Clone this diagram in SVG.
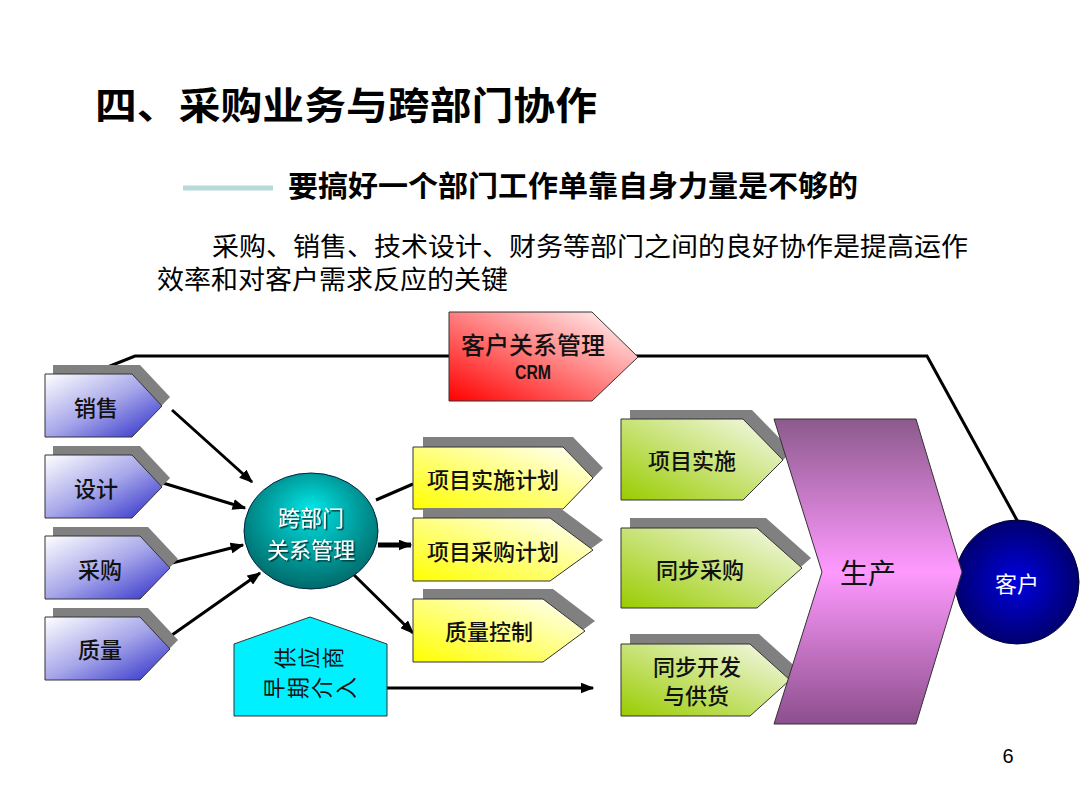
<svg xmlns="http://www.w3.org/2000/svg" width="1080" height="810" viewBox="0 0 1080 810">
<defs>
<style>
.cjk{font-family:"Noto Sans CJK SC","Noto Sans",sans-serif}
.lbl{font-family:"Noto Sans CJK SC","Noto Sans",sans-serif;fill:#111;text-anchor:middle;dominant-baseline:central;font-weight:500}
.wlbl{font-family:"Noto Sans CJK SC","Noto Sans",sans-serif;fill:#fff;text-anchor:middle;dominant-baseline:central}
.shadow{fill:#808080}
.box{stroke:#333;stroke-width:1}
.conn{stroke:#000;stroke-width:3;fill:none}
</style>
<linearGradient id="gBlue" x1="0" y1="0" x2="1" y2="1">
<stop offset="0" stop-color="#ffffff"/><stop offset="0.5" stop-color="#a6a6ea"/><stop offset="1" stop-color="#2a2ac8"/>
</linearGradient>
<linearGradient id="gYellow" x1="1" y1="0" x2="0" y2="1">
<stop offset="0" stop-color="#ffffff"/><stop offset="1" stop-color="#ffff00"/>
</linearGradient>
<linearGradient id="gGreen" x1="1" y1="0" x2="0" y2="1">
<stop offset="0" stop-color="#f8faf0"/><stop offset="1" stop-color="#99cc00"/>
</linearGradient>
<linearGradient id="gRed" x1="1" y1="0" x2="0" y2="1">
<stop offset="0" stop-color="#ffffff"/><stop offset="1" stop-color="#ff0000"/>
</linearGradient>
<linearGradient id="gPurple" x1="0" y1="0" x2="0" y2="1">
<stop offset="0" stop-color="#8c5a8c"/><stop offset="0.5" stop-color="#ff99ff"/><stop offset="1" stop-color="#8c4f8c"/>
</linearGradient>
<radialGradient id="gTeal" cx="0.5" cy="0.4" r="0.6" fx="0.5" fy="0.3">
<stop offset="0" stop-color="#00e6e6"/><stop offset="1" stop-color="#006a6a"/>
</radialGradient>
<radialGradient id="gNavy" cx="0.5" cy="0.5" r="0.5">
<stop offset="0" stop-color="#0000e0"/><stop offset="1" stop-color="#000070"/>
</radialGradient>
<filter id="txtShadow" x="-10%" y="-10%" width="130%" height="130%">
<feDropShadow dx="1.5" dy="1.5" stdDeviation="0.5" flood-color="#003333" flood-opacity="0.9"/>
</filter>
<marker id="arr" viewBox="0 0 10 8" refX="9" refY="4" markerWidth="14" markerHeight="11" markerUnits="userSpaceOnUse" orient="auto">
<path d="M0,0 L10,4 L0,8 z" fill="#000"/>
</marker>
</defs>
<rect width="1080" height="810" fill="#fff"/>

<g id="title">
<text x="95" y="119" class="cjk" font-size="38" font-weight="bold" fill="#000" textLength="502" lengthAdjust="spacingAndGlyphs">四、采购业务与跨部门协作</text>
</g>
<g id="subtitle">
<line x1="183" y1="188" x2="273" y2="188" stroke="#b6d9d9" stroke-width="5"/>
<text x="288" y="197" class="cjk" font-size="29" font-weight="bold" fill="#000" textLength="570" lengthAdjust="spacingAndGlyphs">要搞好一个部门工作单靠自身力量是不够的</text>
</g>
<g id="body">
<text x="212" y="256" class="cjk" font-size="26" fill="#000" textLength="756" lengthAdjust="spacingAndGlyphs">采购、销售、技术设计、财务等部门之间的良好协作是提高运作</text>
<text x="157" y="289" class="cjk" font-size="26" fill="#000" textLength="351" lengthAdjust="spacingAndGlyphs">效率和对客户需求反应的关键</text>
</g>

<g id="connectors">
<polyline class="conn" points="90,374 135,356 927,356 1018,522"/>
<line class="conn" x1="172" y1="410" x2="252" y2="482" marker-end="url(#arr)"/>
<line class="conn" x1="163" y1="483" x2="245" y2="508" marker-end="url(#arr)"/>
<line class="conn" x1="172" y1="563" x2="243" y2="545" marker-end="url(#arr)"/>
<line class="conn" x1="172" y1="635" x2="260" y2="573" marker-end="url(#arr)"/>
<line class="conn" x1="376" y1="500" x2="413" y2="484"/>
<line x1="378" y1="545" x2="411" y2="545" stroke="#000" stroke-width="5" marker-end="url(#arr)"/>
<line class="conn" x1="352" y1="573" x2="413" y2="633" marker-end="url(#arr)"/>
<line class="conn" x1="387" y1="688" x2="593" y2="688" marker-end="url(#arr)"/>
</g>

<g id="crm">
<polygon class="box" fill="url(#gRed)" points="449,312 592,312 638,357 592,401 449,401"/>
<text class="lbl" x="533" y="343" style="font-size:24px">客户关系管理</text>
<text x="533" y="372" font-family="Liberation Sans,Arial,sans-serif" font-size="20" font-weight="bold" fill="#111" text-anchor="middle" dominant-baseline="central" textLength="36" lengthAdjust="spacingAndGlyphs">CRM</text>
</g>

<g id="dept-sales">
<polygon class="shadow" points="53,365 140,365 170,397 140,428 53,428"/>
<polygon class="box" fill="url(#gBlue)" points="45,374 132,374 162,406 132,437 45,437"/>
<text class="lbl" x="96" y="406" style="font-size:22px">销售</text>
</g>
<g id="dept-design">
<polygon class="shadow" points="53,446 140,446 170,478 140,509 53,509"/>
<polygon class="box" fill="url(#gBlue)" points="45,455 132,455 162,487 132,518 45,518"/>
<text class="lbl" x="96" y="487" style="font-size:22px">设计</text>
</g>
<g id="dept-purchase">
<polygon class="shadow" points="53,527 148,527 178,559 148,590 53,590"/>
<polygon class="box" fill="url(#gBlue)" points="45,536 140,536 170,568 140,599 45,599"/>
<text class="lbl" x="100" y="568" style="font-size:22px">采购</text>
</g>
<g id="dept-quality">
<polygon class="shadow" points="53,608 148,608 178,640 148,671 53,671"/>
<polygon class="box" fill="url(#gBlue)" points="45,617 140,617 170,649 140,680 45,680"/>
<text class="lbl" x="100" y="648" style="font-size:22px">质量</text>
</g>

<g id="cross-dept">
<ellipse cx="311" cy="531" rx="67" ry="58" fill="url(#gTeal)" stroke="#024" stroke-width="1"/>
<text class="wlbl" x="311" y="516" font-size="22" filter="url(#txtShadow)">跨部门</text>
<text class="wlbl" x="311" y="548" font-size="22" filter="url(#txtShadow)">关系管理</text>
</g>

<g id="plan-impl">
<polygon class="shadow" points="423,437 573,437 603,468 573,499 423,499"/>
<polygon class="box" fill="url(#gYellow)" points="413,447 563,447 593,478 563,509 413,509"/>
<text class="lbl" x="493" y="478" style="font-size:22px">项目实施计划</text>
</g>
<g id="plan-purchase">
<polygon class="shadow" points="423,508 560,508 603,540 560,571 423,571"/>
<polygon class="box" fill="url(#gYellow)" points="413,518 550,518 593,550 550,581 413,581"/>
<text class="lbl" x="493" y="550" style="font-size:22px">项目采购计划</text>
</g>
<g id="quality-ctrl">
<polygon class="shadow" points="423,589 553,589 595,621 553,652 423,652"/>
<polygon class="box" fill="url(#gYellow)" points="413,599 543,599 585,631 543,662 413,662"/>
<text class="lbl" x="489" y="630" style="font-size:22px">质量控制</text>
</g>

<g id="supplier">
<polygon points="234,644 310,617 387,644 387,716 234,716" fill="#00f0ff" stroke="#333" stroke-width="1"/>
<text class="cjk" font-size="22" fill="#111" x="293 317 341" y="669" rotate="-90">供应商</text>
<text class="cjk" font-size="22" fill="#111" x="282 306 330 354" y="699" rotate="-90">早期介入</text>
</g>

<g id="customer">
<circle cx="1017" cy="582" r="62" fill="url(#gNavy)" stroke="#000033" stroke-width="1"/>
<text class="wlbl" x="1017" y="582" font-size="22">客户</text>
</g>

<g id="res-impl">
<polygon class="shadow" points="630,410 752,410 792,451 752,491 630,491"/>
<polygon class="box" fill="url(#gGreen)" points="621,419 743,419 783,460 743,500 621,500"/>
<text class="lbl" x="692" y="459" style="font-size:22px">项目实施</text>
</g>
<g id="res-sync-purchase">
<polygon class="shadow" points="630,518 766,518 811,558 766,598 630,598"/>
<polygon class="box" fill="url(#gGreen)" points="621,528 757,528 802,568 757,608 621,608"/>
<text class="lbl" x="700" y="568" style="font-size:22px">同步采购</text>
</g>
<g id="res-sync-dev">
<polygon class="shadow" points="630,634 759,634 799,670 759,706 630,706"/>
<polygon class="box" fill="url(#gGreen)" points="621,644 750,644 790,680 750,716 621,716"/>
<text class="lbl" x="697" y="665" style="font-size:22px">同步开发</text>
<text class="lbl" x="696" y="694" style="font-size:22px">与供货</text>
</g>

<g id="production">
<polygon points="774,419 916,419 962,572 916,724 774,724 822,572" fill="url(#gPurple)" stroke="#333" stroke-width="1"/>
<text class="lbl" x="868" y="572" style="font-size:28px;font-weight:400">生产</text>
</g>

<g id="page">
<text x="1008" y="756" font-family="Liberation Sans,Arial,sans-serif" font-size="20" fill="#000" text-anchor="middle" dominant-baseline="central">6</text>
</g>
</svg>
